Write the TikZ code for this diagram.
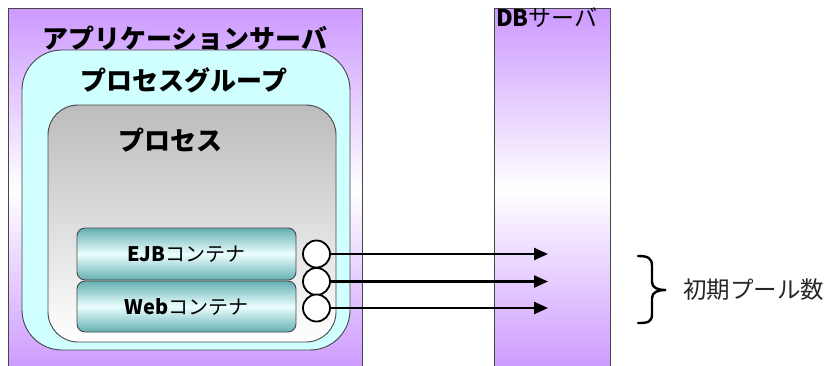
\documentclass[tikz,border=0pt]{standalone}
\usepackage{fontspec}
\newfontfamily\jp{Noto Sans CJK JP}
\usetikzlibrary{arrows.meta}
\definecolor{srvpurple}{RGB}{204,153,255}
\definecolor{grpcyan}{RGB}{208,255,255}
\definecolor{boxgray}{RGB}{70,70,70}
\definecolor{tealdark}{RGB}{100,175,178}
\definecolor{teallight}{RGB}{236,255,255}
\definecolor{procgray}{RGB}{188,188,188}
\tikzset{
  server/.style={draw=boxgray, line width=0.9pt, rectangle, inner sep=0pt,
    top color=srvpurple, bottom color=srvpurple, middle color=white},
  groupbox/.style={draw=boxgray, line width=0.9pt, rectangle, rounded corners=40pt,
    fill=grpcyan, inner sep=0pt},
  procbox/.style={draw=boxgray, line width=0.9pt, rectangle, rounded corners=30pt,
    top color=procgray, bottom color=white, inner sep=0pt},
  contbox/.style={draw=boxgray, line width=0.9pt, rectangle, rounded corners=8pt,
    top color=tealdark, bottom color=tealdark, middle color=teallight,
    minimum width=219pt, inner sep=0pt, font=\jp\fontsize{20}{22}\selectfont},
  title/.style={inner sep=0pt, font=\jp\bfseries\fontsize{26}{28}\selectfont},
  conn/.style={circle, draw=black, line width=1.8pt, fill=white, minimum size=27pt, inner sep=0pt},
  poolarrow/.style={line width=2.4pt, -{Triangle[length=14pt,width=12pt]}},
}
\begin{document}
\begin{tikzpicture}[x=1pt,y=-1pt]
\useasboundingbox (0,0) rectangle (826,365);
\clip (0,0) rectangle (826,365);
% servers
\node[server, minimum width=354pt, minimum height=364pt] (app) at (185,190) {};
\node[server, minimum width=116pt, minimum height=364pt] (db) at (552,190) {};
\node[title] (apptitle) at (185,38) {アプリケーションサーバ};
\node[anchor=north west, inner sep=0pt, font=\jp\fontsize{23}{25}\selectfont] (dbtitle) at (496,7) {\textbf{DB}サーバ};
% process group
\node[groupbox, minimum width=328pt, minimum height=300pt] (grp) at (186,200) {};
\node[title] (grptitle) at (184,80) {プロセスグループ};
% process
\node[procbox, minimum width=288pt, minimum height=237pt] (proc) at (192,223.5) {};
\node[title] (proctitle) at (170,140) {プロセス};
% containers
\node[contbox, minimum height=52pt] (ejb) at (186.5,254) {\textbf{EJB}コンテナ};
\node[contbox, minimum height=51pt] (web) at (186.5,306.5) {\textbf{Web}コンテナ};
% connections
\node[conn] (c1) at (316.5,254) {};
\node[conn] (c2) at (316.5,281.5) {};
\node[conn] (c3) at (316.5,308) {};
\coordinate (e1) at (548,254);
\coordinate (e2) at (548,281.5);
\coordinate (e3) at (548,308);
\draw[poolarrow] (c1.east) -- (e1);
\draw[poolarrow] (c2.east) -- (e2);
\draw[poolarrow] (c3.east) -- (e3);
% brace
\draw[line width=2.4pt, line cap=round]
  (638,256) .. controls (648,256) and (652,258) .. (652,266) -- (652,282)
  .. controls (652,288) and (658,290) .. (666,290)
  .. controls (658,290) and (652,292) .. (652,298) -- (652,314)
  .. controls (652,322) and (648,323) .. (638,323);
\node[anchor=west, inner sep=0pt, text=black!85, font=\jp\fontsize{23.5}{25}\selectfont] (pool) at (683,290) {初期プール数};
\end{tikzpicture}
\end{document}
